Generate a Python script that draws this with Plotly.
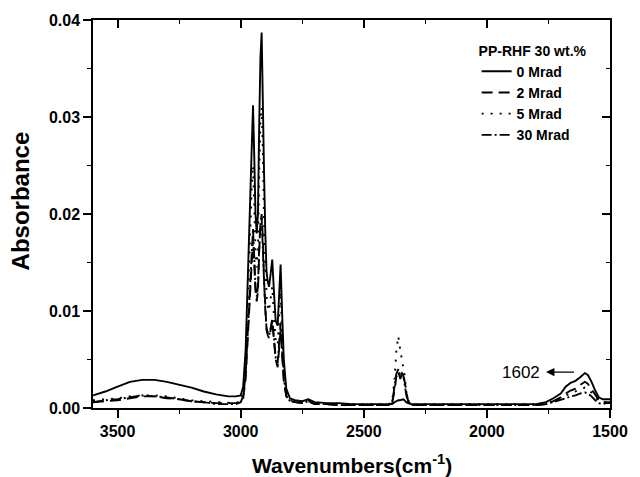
import plotly.graph_objects as go

wavenumber = [3600, 3550, 3500, 3450, 3400, 3350, 3300, 3250, 3200, 3150, 3100, 3050, 3020, 3000,
              2990, 2980, 2970, 2960, 2955, 2950, 2945, 2940, 2935, 2930, 2925, 2920, 2915, 2910,
              2905, 2900, 2895, 2890, 2885, 2880, 2872, 2865, 2858, 2850, 2845, 2838, 2832, 2825,
              2815, 2800, 2780, 2750, 2725, 2700, 2650, 2600, 2550, 2500, 2450, 2400, 2385, 2375,
              2368, 2360, 2352, 2345, 2340, 2335, 2328, 2320, 2310, 2300, 2250, 2200, 2100, 2000,
              1900, 1800, 1760, 1730, 1700, 1680, 1660, 1640, 1620, 1602, 1590, 1575, 1560, 1545,
              1530, 1515, 1500]

abs_0 = [0.0013, 0.0017, 0.0022, 0.0027, 0.0029, 0.0029, 0.0027, 0.0024, 0.0021, 0.0017, 0.0014, 0.0012, 0.0012, 0.0013,
         0.0022, 0.0060, 0.0150, 0.0240, 0.0290, 0.0312, 0.0260, 0.0200, 0.0180, 0.0200, 0.0290, 0.0360, 0.0387, 0.0330,
         0.0240, 0.0180, 0.0140, 0.0130, 0.0125, 0.0135, 0.0153, 0.0120, 0.0090, 0.0085, 0.0110, 0.0148, 0.0100, 0.0050,
         0.0020, 0.0010, 0.0008, 0.0007, 0.0009, 0.0006, 0.0005, 0.0005, 0.0004, 0.0004, 0.0004, 0.0004, 0.0004, 0.0006,
         0.0007, 0.0008, 0.0008, 0.0009, 0.0009, 0.0008, 0.0006, 0.0005, 0.0004, 0.0004, 0.0004, 0.0004, 0.0004, 0.0004,
         0.0004, 0.0004, 0.0006, 0.0010, 0.0015, 0.0022, 0.0026, 0.0028, 0.0032, 0.0036, 0.0034, 0.0027, 0.0018, 0.0011,
         0.0009, 0.0009, 0.0009]

abs_2 = [0.0006, 0.0007, 0.0008, 0.0010, 0.0012, 0.0012, 0.0010, 0.0009, 0.0007, 0.0006, 0.0005, 0.0005, 0.0005, 0.0006,
         0.0010, 0.0030, 0.0080, 0.0130, 0.0160, 0.0175, 0.0150, 0.0120, 0.0110, 0.0120, 0.0160, 0.0190, 0.0200, 0.0175,
         0.0130, 0.0100, 0.0080, 0.0075, 0.0072, 0.0078, 0.0090, 0.0070, 0.0050, 0.0042, 0.0055, 0.0080, 0.0055, 0.0028,
         0.0012, 0.0007, 0.0006, 0.0005, 0.0007, 0.0004, 0.0004, 0.0003, 0.0003, 0.0003, 0.0003, 0.0003, 0.0005, 0.0018,
         0.0032, 0.0038, 0.0030, 0.0035, 0.0036, 0.0028, 0.0015, 0.0007, 0.0004, 0.0003, 0.0003, 0.0003, 0.0003, 0.0003,
         0.0003, 0.0003, 0.0004, 0.0007, 0.0011, 0.0015, 0.0018, 0.0020, 0.0024, 0.0027, 0.0025, 0.0019, 0.0013, 0.0008,
         0.0006, 0.0006, 0.0006]

abs_5 = [0.0008, 0.0009, 0.0010, 0.0012, 0.0013, 0.0013, 0.0012, 0.0010, 0.0008, 0.0007, 0.0006, 0.0005, 0.0005, 0.0007,
         0.0015, 0.0045, 0.0110, 0.0190, 0.0230, 0.0250, 0.0210, 0.0160, 0.0145, 0.0165, 0.0240, 0.0295, 0.0310, 0.0265,
         0.0190, 0.0145, 0.0115, 0.0105, 0.0100, 0.0110, 0.0125, 0.0095, 0.0070, 0.0065, 0.0085, 0.0120, 0.0080, 0.0040,
         0.0016, 0.0008, 0.0007, 0.0006, 0.0008, 0.0005, 0.0004, 0.0004, 0.0004, 0.0004, 0.0004, 0.0004, 0.0006, 0.0030,
         0.0058, 0.0074, 0.0060, 0.0050, 0.0045, 0.0035, 0.0018, 0.0008, 0.0005, 0.0004, 0.0004, 0.0004, 0.0004, 0.0004,
         0.0004, 0.0004, 0.0005, 0.0007, 0.0010, 0.0013, 0.0015, 0.0017, 0.0019, 0.0021, 0.0020, 0.0016, 0.0011, 0.0007,
         0.0006, 0.0006, 0.0006]

abs_30 = [0.0006, 0.0008, 0.0009, 0.0011, 0.0013, 0.0012, 0.0011, 0.0009, 0.0007, 0.0006, 0.0004, 0.0004, 0.0004, 0.0006,
          0.0012, 0.0035, 0.0085, 0.0140, 0.0170, 0.0185, 0.0155, 0.0125, 0.0115, 0.0125, 0.0165, 0.0190, 0.0196, 0.0170,
          0.0130, 0.0100, 0.0082, 0.0078, 0.0075, 0.0080, 0.0092, 0.0072, 0.0052, 0.0046, 0.0060, 0.0088, 0.0060, 0.0030,
          0.0013, 0.0007, 0.0006, 0.0005, 0.0007, 0.0004, 0.0004, 0.0003, 0.0003, 0.0003, 0.0003, 0.0003, 0.0005, 0.0020,
          0.0035, 0.0040, 0.0033, 0.0036, 0.0034, 0.0026, 0.0014, 0.0006, 0.0004, 0.0003, 0.0003, 0.0003, 0.0003, 0.0003,
          0.0003, 0.0003, 0.0004, 0.0006, 0.0008, 0.0010, 0.0012, 0.0013, 0.0015, 0.0016, 0.0015, 0.0012, 0.0008, 0.0005,
          0.0004, 0.0005, 0.0005]

series_names = ["0 Mrad", "2 Mrad", "5 Mrad", "30 Mrad"]
series_values = [abs_0, abs_2, abs_5, abs_30]
series_dash = ["solid", "11px,6px", "2px,7px", "10px,3px,2px,3px"]

x_major = [3500, 3000, 2500, 2000, 1500]
x_minor = [3250, 2750, 2250, 1750]
y_major = [0, 0.01, 0.02, 0.03, 0.04]
y_minor = [0.005, 0.015, 0.025, 0.035]

FONT = "Liberation Sans, Arial, sans-serif"

fig = go.Figure()
for name, vals, dash in zip(series_names, series_values, series_dash):
    fig.add_trace(go.Scatter(x=wavenumber, y=vals, mode="lines", name=name,
                             line=dict(color="black", width=1.9, dash=dash)))

# invisible trace for mirrored top/right axes
fig.add_trace(go.Scatter(x=[3000], y=[0.01], xaxis="x2", yaxis="y2", mode="markers",
                         marker=dict(opacity=0), showlegend=False, hoverinfo="skip"))

axis_common = dict(showgrid=False, zeroline=False, linecolor="black", linewidth=1.5,
                   tickcolor="black", tickwidth=1.5)

fig.update_layout(
    width=640, height=477,
    margin=dict(l=93, r=20, t=20, b=69),
    paper_bgcolor="white", plot_bgcolor="white",
    font=dict(family=FONT, color="black"),
    xaxis=dict(range=[3600, 1500], tickvals=x_major,
               ticks="outside", ticklen=8,
               minor=dict(tickvals=x_minor, ticks="outside", ticklen=4,
                          tickcolor="black", tickwidth=1.2),
               tickfont=dict(size=16, weight="bold", family=FONT), **axis_common),
    yaxis=dict(range=[0, 0.04], tickvals=y_major, tickformat=".2f",
               ticks="outside", ticklen=8,
               minor=dict(tickvals=y_minor, ticks="outside", ticklen=4,
                          tickcolor="black", tickwidth=1.2),
               tickfont=dict(size=16, weight="bold", family=FONT), **axis_common),
    xaxis2=dict(overlaying="x", side="top", range=[3600, 1500],
                tickvals=x_major, ticks="inside", ticklen=8,
                minor=dict(tickvals=x_minor, ticks="inside", ticklen=4,
                           tickcolor="black", tickwidth=1.2),
                showticklabels=False, **axis_common),
    yaxis2=dict(overlaying="y", side="right", range=[0, 0.04],
                tickvals=y_major, ticks="inside", ticklen=8,
                minor=dict(tickvals=y_minor, ticks="inside", ticklen=4,
                           tickcolor="black", tickwidth=1.2),
                showticklabels=False, **axis_common),
    legend=dict(x=0.742, y=0.955, xanchor="left", yanchor="top",
                bgcolor="rgba(0,0,0,0)",
                title=dict(text="PP-RHF 30 wt.%", font=dict(size=14, weight="bold", family=FONT)),
                font=dict(size=14, weight="bold", family=FONT),
                tracegroupgap=0, itemwidth=30),
    showlegend=True,
)

# Axis titles
fig.add_annotation(text="Wavenumbers(cm<sup>-1</sup>)", xref="paper", yref="paper",
                   x=0.5, y=-0.145, xanchor="center", yanchor="middle", showarrow=False,
                   font=dict(size=21, weight="bold", family=FONT))
fig.add_annotation(text="Absorbance", xref="paper", yref="paper",
                   x=-0.14, y=0.534, xanchor="center", yanchor="middle", showarrow=False,
                   textangle=-90, font=dict(size=24, weight="bold", family=FONT))

# 1602 label and arrow
fig.add_annotation(text="1602", x=1862, y=0.0037, xref="x", yref="y", showarrow=False,
                   font=dict(size=17, family=FONT))
fig.add_annotation(text="", x=1760, y=0.0037, ax=1640, ay=0.0037, xref="x", yref="y",
                   axref="x", ayref="y", showarrow=True, arrowhead=2, arrowsize=1.3,
                   arrowwidth=1.3, arrowcolor="black")

fig.write_html("out.html")
